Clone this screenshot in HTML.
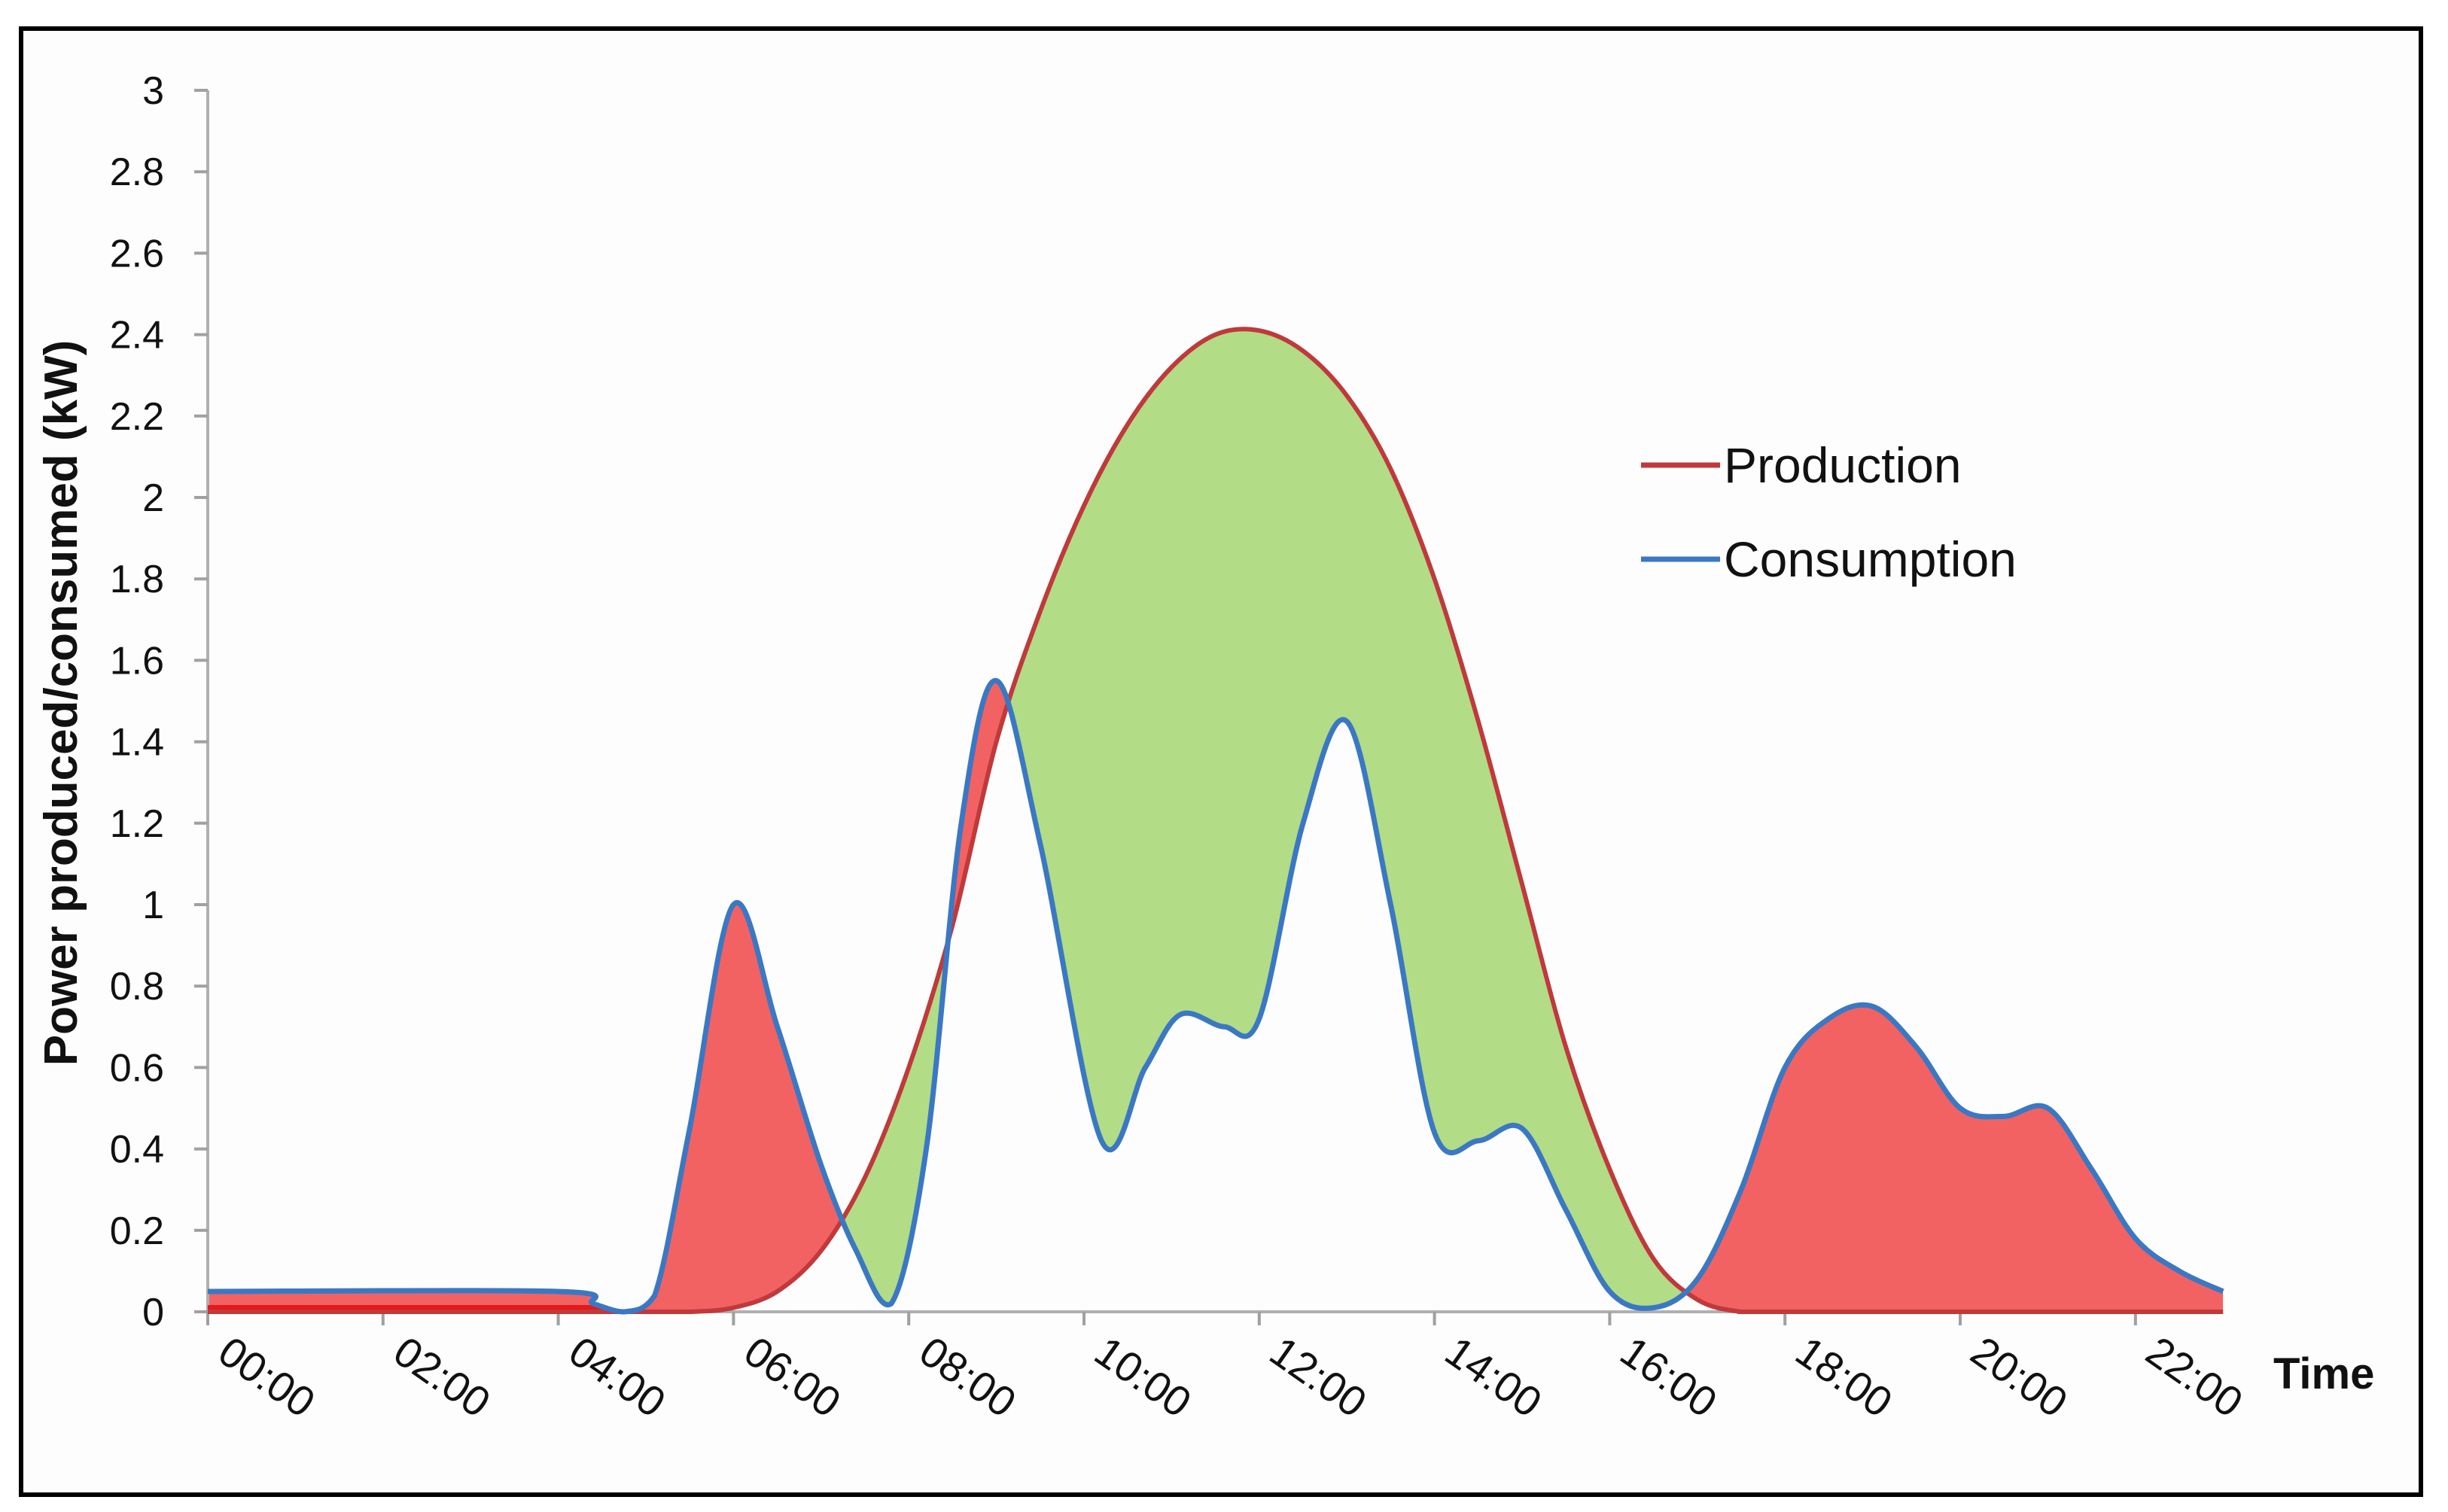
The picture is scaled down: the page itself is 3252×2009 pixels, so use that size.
<!DOCTYPE html>
<html><head><meta charset="utf-8"><style>
html,body{margin:0;padding:0;background:#fff;}
svg{display:block;font-family:"Liberation Sans",sans-serif;}
</style></head><body>
<svg id="chart" width="3252" height="2009" viewBox="0 0 3252 2009">
<rect x="0" y="0" width="3252" height="2009" fill="#fff"/>
<rect x="28" y="38" width="3188" height="1948" fill="#fdfdfd" stroke="#000" stroke-width="6"/>
<defs>
<clipPath id="aboveCons"><path id="aboveConsPath"/></clipPath>
<clipPath id="aboveProd"><path id="aboveProdPath"/></clipPath>
</defs>
<g id="fills"></g>
<g id="axes"></g>
<g id="lines"></g>
<g id="legend">
<line x1="2180" y1="618" x2="2285" y2="618" stroke="#c0393b" stroke-width="7"/>
<text x="2290" y="641" font-size="66" fill="#111">Production</text>
<line x1="2180" y1="743" x2="2285" y2="743" stroke="#3a78c4" stroke-width="7"/>
<text x="2290" y="766" font-size="66" fill="#111">Consumption</text>
</g>
<text transform="translate(102,934) rotate(-90)" text-anchor="middle" font-size="62" font-weight="bold" fill="#111">Power produced/consumed (kW)</text>
<text x="3020" y="1845" font-size="58" font-weight="bold" fill="#111">Time</text>
</svg>
<script>
const prodT=[0,4.5,5,5.5,6,6.5,7,7.5,8,8.5,9,9.5,10,10.5,11,11.5,12,12.5,13,13.5,14,14.5,15,15.5,16,16.5,17,17.5,18,23];
const prodV=[0,0,0,0,0.01,0.05,0.15,0.33,0.6,0.95,1.4,1.72,1.98,2.18,2.32,2.4,2.41,2.36,2.25,2.07,1.8,1.45,1.05,0.65,0.35,0.13,0.03,0,0,0];
const consT=[0,4,4.4,4.75,5.1,5.5,6,6.5,7,7.4,7.8,8.2,8.6,9,9.5,10.2,10.7,11.1,11.6,12,12.5,13,13.5,14,14.5,15,15.5,16,16.5,17,17.5,18,18.5,19,19.5,20,20.5,21,21.5,22,22.5,23];
const consV=[0.05,0.05,0.02,0,0.04,0.45,1.0,0.7,0.36,0.15,0.02,0.4,1.2,1.55,1.15,0.42,0.6,0.73,0.7,0.72,1.2,1.45,1.0,0.44,0.42,0.45,0.25,0.05,0.01,0.08,0.3,0.6,0.72,0.75,0.65,0.5,0.48,0.5,0.35,0.18,0.1,0.05];
const yTicks=[0,0.2,0.4,0.6,0.8,1,1.2,1.4,1.6,1.8,2,2.2,2.4,2.6,2.8,3];
const xTicks=[0,2,4,6,8,10,12,14,16,18,20,22];
const xLabels=["00:00","02:00","04:00","06:00","08:00","10:00","12:00","14:00","16:00","18:00","20:00","22:00"];

const X0=276, PXH=116.4, Y0=1743, PXU=541;
const xs=t=>X0+t*PXH;
const ys=v=>Y0-v*PXU;
const NS='http://www.w3.org/2000/svg';
function mk(tag,attrs,parent){const e=document.createElementNS(NS,tag);for(const k in attrs)e.setAttribute(k,attrs[k]);parent.appendChild(e);return e;}

function smooth(T,V){
  const p=T.map((t,i)=>[xs(t),ys(V[i])]);
  let d='M'+p[0][0]+','+p[0][1];
  for(let i=0;i<p.length-1;i++){
    const p0=p[i-1]||p[i],p1=p[i],p2=p[i+1],p3=p[i+2]||p2;
    const c1=[p1[0]+(p2[0]-p0[0])/6,p1[1]+(p2[1]-p0[1])/6];
    const c2=[p2[0]-(p3[0]-p1[0])/6,p2[1]-(p3[1]-p1[1])/6];
    d+=' C'+c1[0]+','+Math.min(c1[1],Y0)+' '+c2[0]+','+Math.min(c2[1],Y0)+' '+p2[0]+','+p2[1];
  }
  return d;
}
const prodD=smooth(prodT,prodV), consD=smooth(consT,consV);
const xA=xs(0), xB=xs(23);
document.getElementById('aboveConsPath').setAttribute('d',consD+' L'+xB+',0 L'+xA+',0 Z');
document.getElementById('aboveProdPath').setAttribute('d',prodD+' L'+xB+',0 L'+xA+',0 Z');

const fills=document.getElementById('fills');
const green=mk('path',{d:prodD+' L'+xB+','+Y0+' L'+xA+','+Y0+' Z',fill:'#b2dc86','clip-path':'url(#aboveCons)'},fills);


const red=mk('path',{d:consD+' L'+xB+','+Y0+' L'+xA+','+Y0+' Z',fill:'#f26262','clip-path':'url(#aboveProd)'},fills);



const axes=document.getElementById('axes');
const ya=mk('line',{x1:X0,y1:ys(3),x2:X0,y2:Y0,stroke:'#b0b0b0','stroke-width':4},axes);


const xa=mk('line',{x1:X0,y1:Y0,x2:xB,y2:Y0,stroke:'#b0b0b0','stroke-width':4},axes);


yTicks.forEach(v=>{
  const tk=mk('line',{x1:X0-18,y1:ys(v),x2:X0,y2:ys(v),stroke:'#a0a0a0','stroke-width':4},axes);
  
  
  const tx=mk('text',{x:218,y:ys(v)+18,'text-anchor':'end','font-size':52,fill:'#111'},axes);
  tx.textContent=String(v);
  
  
});
xTicks.forEach((t,i)=>{
  const tk=mk('line',{x1:xs(t),y1:Y0,x2:xs(t),y2:Y0+18,stroke:'#a0a0a0','stroke-width':4},axes);
  
  
  const tx=mk('text',{transform:'translate('+(xs(t)+10)+','+(Y0+62)+') rotate(35)','font-size':56,fill:'#111'},axes);
  tx.textContent=xLabels[i];
  
  
});

const lines=document.getElementById('lines');
const base=mk('line',{x1:xA,y1:Y0-4,x2:xs(4.5),y2:Y0-4,stroke:'#e81818','stroke-width':10},lines);


const pl=mk('path',{d:prodD,fill:'none',stroke:'#c0393b','stroke-width':6},lines);


const cl=mk('path',{d:consD,fill:'none',stroke:'#3a78c4','stroke-width':7},lines);


</script>
</body></html>
